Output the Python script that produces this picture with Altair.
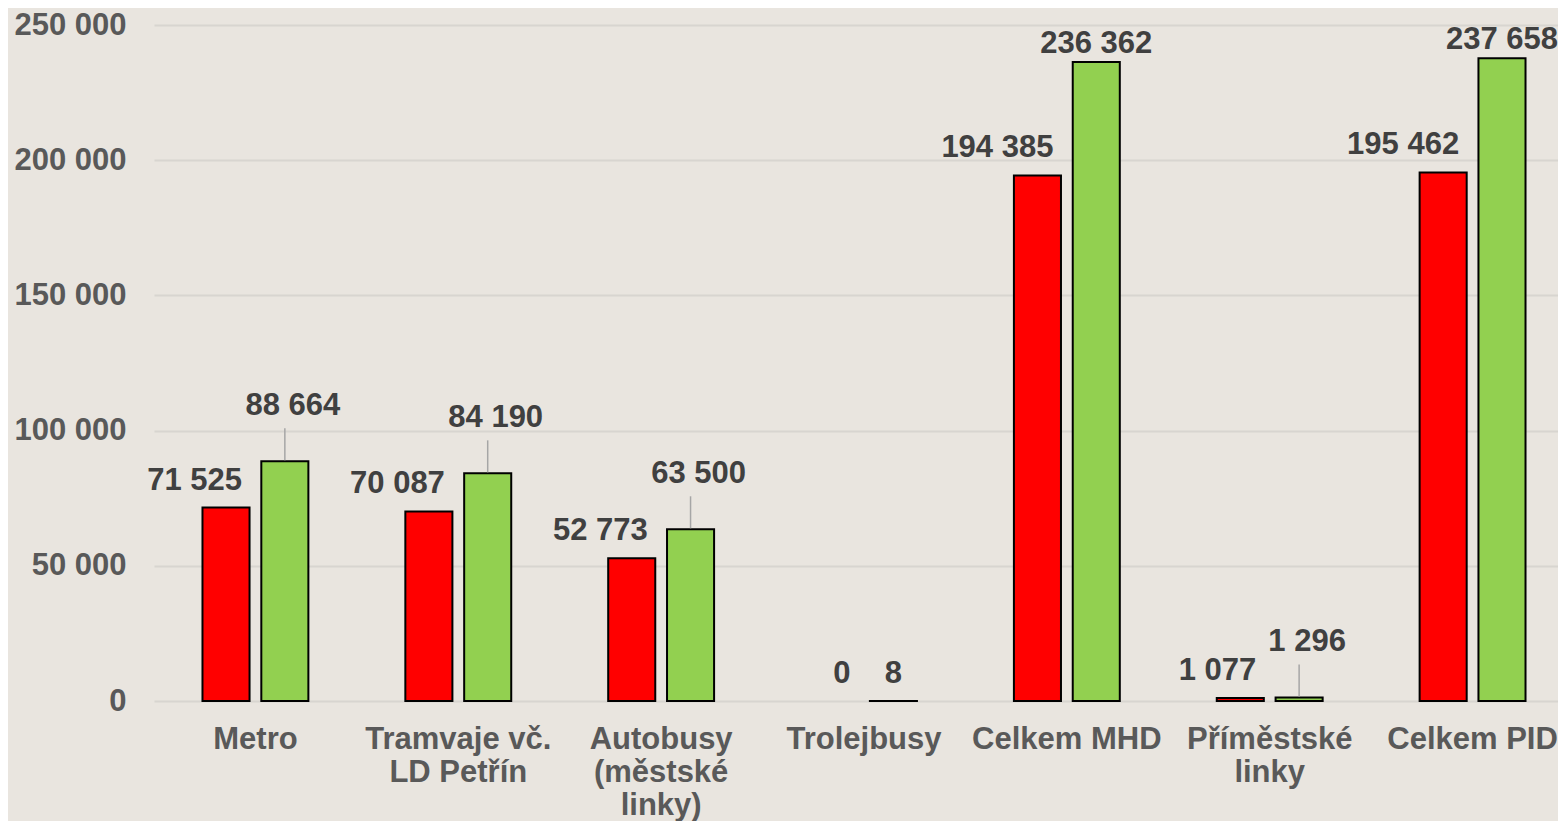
import altair as alt
import pandas as pd

categories = ["Metro", "Tramvaje vč.|LD Petřín", "Autobusy|(městské|linky)", "Trolejbusy",
              "Celkem MHD", "Příměstské|linky", "Celkem PID"]
series = ["Řada 1", "Řada 2"]
values_1 = [71525, 70087, 52773, 0, 194385, 1077, 195462]
values_2 = [88664, 84190, 63500, 8, 236362, 1296, 237658]
y_ticks = [0, 50000, 100000, 150000, 200000, 250000]

rows = []
for c, v1, v2 in zip(categories, values_1, values_2):
    rows.append({"category": c, "series": series[0], "value": v1, "label": f"{v1:,}".replace(",", " ")})
    rows.append({"category": c, "series": series[1], "value": v2, "label": f"{v2:,}".replace(",", " ")})
df = pd.DataFrame(rows)

FONT = "Liberation Sans"

base = alt.Chart(df).encode(
    x=alt.X("category:N", sort=categories,
            scale=alt.Scale(paddingInner=0.42, paddingOuter=0.21),
            axis=alt.Axis(title=None, labelAngle=0, labelExpr="split(datum.label, '|')",
                          labelFontSize=31, labelFont=FONT, labelFontWeight="bold",
                          labelColor="#595959", labelLineHeight=33, labelPadding=23,
                          labelLimit=400, domain=False, ticks=False, grid=False)),
    xOffset=alt.XOffset("series:N", sort=series,
                        scale=alt.Scale(paddingInner=0.2, paddingOuter=0.1)),
    y=alt.Y("value:Q", scale=alt.Scale(domain=[0, 250000], nice=False),
            axis=alt.Axis(title=None, values=y_ticks,
                          labelExpr="replace(format(datum.value, ','), ',', ' ')",
                          labelFontSize=31, labelFont=FONT, labelFontWeight="bold",
                          labelColor="#595959", labelPadding=28,
                          domain=False, ticks=False, grid=True,
                          gridColor="#D8D5D0", gridWidth=2)),
)

bars = base.transform_filter("datum.value > 0").mark_bar(stroke="black", strokeWidth=2).encode(
    color=alt.Color("series:N", scale=alt.Scale(domain=series, range=["#FF0000", "#92D050"]),
                    legend=None)
)

text_style = dict(font=FONT, fontSize=31, fontWeight="bold", color="#404040", baseline="alphabetic")

red_labels = base.transform_filter(f"datum.series == '{series[0]}'").mark_text(
    align="right", dx=16, dy=-18, **text_style
).encode(text="label:N")

lead_filter = f"datum.series == '{series[1]}' && datum.value >= 1000 && datum.value < 150000"
small_filter = f"datum.series == '{series[1]}' && datum.value < 1000"
big_filter = f"datum.series == '{series[1]}' && datum.value >= 150000"

green_lead_labels = base.transform_filter(lead_filter).mark_text(
    align="center", dx=8, dy=-46, **text_style
).encode(text="label:N")

leaders = base.transform_filter(lead_filter).mark_rule(
    color="#A6A6A6", strokeWidth=1.5, yOffset=-1, y2Offset=-33
).encode(y2="value:Q")

green_small_labels = base.transform_filter(small_filter).mark_text(
    align="center", dx=0, dy=-18, **text_style
).encode(text="label:N")

green_big_labels = base.transform_filter(big_filter).mark_text(
    align="center", dx=0, dy=-9, **text_style
).encode(text="label:N")

chart = alt.layer(bars, leaders, red_labels, green_lead_labels, green_small_labels,
                  green_big_labels).properties(
    width=1420, height=676,
    background="#E9E5DF",
    autosize=alt.AutoSizeParams(type="none"),
    padding={"left": 146, "top": 17, "right": -16, "bottom": 120},
).configure_view(stroke=None)

chart.save("out.html", embed_options={"renderer": "svg", "actions": False})
